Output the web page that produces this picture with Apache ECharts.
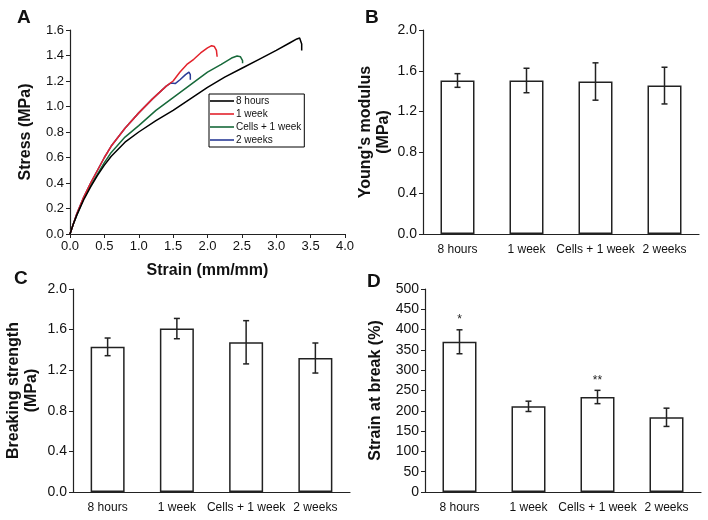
<!DOCTYPE html>
<html>
<head>
<meta charset="utf-8">
<script src="https://cdn.jsdelivr.net/npm/echarts@6/dist/echarts.min.js"></script>
<style>
html,body{margin:0;padding:0;background:#fff;}
#chart{width:708px;height:520px;}
</style>
</head>
<body>
<div id="chart"></div>
<script>
// ---------- Panel A: stress-strain curves ----------
const seriesNamesA = ['8 hours', '1 week', 'Cells + 1 week', '2 weeks'];
const curve8h = [[0,0],[0.05,0.08],[0.1,0.15],[0.2,0.27],[0.3,0.37],[0.4,0.46],[0.5,0.54],[0.6,0.61],[0.8,0.72],[1.0,0.8],[1.25,0.89],[1.5,0.97],[1.75,1.06],[2.0,1.15],[2.25,1.23],[2.5,1.3],[2.75,1.37],[3.0,1.44],[3.2,1.5],[3.3,1.53],[3.34,1.537],[3.36,1.525],[3.37,1.49],[3.37,1.44]];
const curve1w = [[0,0],[0.05,0.08],[0.1,0.16],[0.2,0.29],[0.3,0.4],[0.4,0.5],[0.5,0.6],[0.6,0.69],[0.8,0.83],[1.0,0.95],[1.2,1.06],[1.4,1.16],[1.5,1.2],[1.6,1.27],[1.7,1.33],[1.8,1.37],[1.9,1.42],[2.0,1.46],[2.06,1.477],[2.1,1.47],[2.13,1.44],[2.14,1.39]];
const curveCells = [[0,0],[0.05,0.08],[0.1,0.15],[0.2,0.28],[0.3,0.38],[0.4,0.47],[0.5,0.56],[0.6,0.64],[0.8,0.76],[1.0,0.85],[1.25,0.97],[1.5,1.07],[1.75,1.17],[2.0,1.27],[2.2,1.33],[2.35,1.38],[2.43,1.396],[2.48,1.39],[2.51,1.36],[2.51,1.34]];
const curve2w = [[0,0],[0.05,0.08],[0.1,0.16],[0.2,0.29],[0.3,0.4],[0.4,0.5],[0.5,0.6],[0.6,0.69],[0.8,0.83],[1.0,0.95],[1.2,1.06],[1.4,1.16],[1.47,1.185],[1.53,1.18],[1.6,1.21],[1.68,1.25],[1.73,1.27],[1.75,1.25],[1.75,1.21]];
const colorsA = ['#000000', '#e3232c', '#17693a', '#2b3d98'];

// ---------- Bar panels ----------
const groups = ['8 hours', '1 week', 'Cells + 1 week', '2 weeks'];
const youngMean = [1.505, 1.505, 1.495, 1.455];
const youngErr  = [0.067, 0.12, 0.183, 0.18];
const breakMean = [1.43, 1.61, 1.475, 1.32];
const breakErr  = [0.087, 0.10, 0.213, 0.148];
const strainMean = [370, 211, 234, 184];
const strainErr  = [29.5, 12.7, 16.4, 22.5];
const strainMarks = ['*', '', '**', ''];

const FONT = 'Liberation Sans, Arial, Helvetica, sans-serif';
const AX = '#222';

function errData(mean, err) {
  return mean.map((m, i) => [i, m - err[i], m + err[i]]);
}
function errSeries(xi, yi, mean, err, marks) {
  return {
    type: 'custom', xAxisIndex: xi, yAxisIndex: yi, z: 5,
    data: errData(mean, err),
    renderItem: function (params, api) {
      const lo = api.coord([api.value(0), api.value(1)]);
      const hi = api.coord([api.value(0), api.value(2)]);
      const w = 3;
      const st = { stroke: '#222', lineWidth: 1.5 };
      const ch = [
        { type: 'line', shape: { x1: lo[0], y1: lo[1], x2: hi[0], y2: hi[1] }, style: st },
        { type: 'line', shape: { x1: lo[0] - w, y1: lo[1], x2: lo[0] + w, y2: lo[1] }, style: st },
        { type: 'line', shape: { x1: hi[0] - w, y1: hi[1], x2: hi[0] + w, y2: hi[1] }, style: st }
      ];
      if (marks && marks[params.dataIndex]) {
        ch.push({ type: 'text', x: hi[0], y: hi[1] - 10,
          style: { text: marks[params.dataIndex], fill: '#222', font: '12px ' + FONT, align: 'center', verticalAlign: 'middle' } });
      }
      return { type: 'group', children: ch };
    }
  };
}

function catAxis(gi) {
  return {
    type: 'category', gridIndex: gi, data: groups,
    axisLine: { lineStyle: { color: AX, width: 1.2 } },
    axisTick: { show: false },
    axisLabel: { interval: 0, color: '#111', fontSize: 12, fontFamily: FONT, margin: 10 },
    splitLine: { show: false }
  };
}
function valAxis(gi, min, max, interval, name, gap, dec) {
  return {
    type: 'value', gridIndex: gi, min: min, max: max, interval: interval,
    name: name, nameLocation: 'middle', nameGap: gap, nameRotate: 90,
    nameTextStyle: { fontSize: 16, fontWeight: 'bold', color: '#111', fontFamily: FONT, lineHeight: 18, align: 'center' },
    axisLine: { show: true, lineStyle: { color: AX, width: 1.2 } },
    axisTick: { show: true, length: 4, lineStyle: { color: AX } },
    axisLabel: { color: '#111', fontSize: 14, fontFamily: FONT, margin: 6,
      formatter: v => dec ? v.toFixed(dec) : String(v) },
    splitLine: { show: false }
  };
}
function barSeries(xi, yi, data) {
  return {
    type: 'bar', xAxisIndex: xi, yAxisIndex: yi, data: data, barWidth: 34,
    itemStyle: { color: '#ffffff', borderColor: '#222', borderWidth: 1.5 },
    silent: true
  };
}

const lineData = [curve8h, curve1w, curveCells, curve2w];

const option = {
  animation: false,
  backgroundColor: '#ffffff',
  textStyle: { fontFamily: FONT },
  grid: [
    { left: 70, top: 30, width: 275, height: 204 },
    { left: 423, top: 30, width: 276, height: 204 },
    { left: 73, top: 289, width: 277, height: 203 },
    { left: 425, top: 289, width: 276, height: 203 }
  ],
  legend: {
    data: seriesNamesA, orient: 'vertical', left: 209, top: 94,
    icon: 'rect', itemWidth: 24, itemHeight: 1.6, itemGap: 1,
    padding: [1, 3, 1, 1],
    borderColor: '#000', borderWidth: 1,
    textStyle: { fontSize: 10, color: '#111', fontFamily: FONT, lineHeight: 12, padding: [0, 0, 0, -3] }
  },
  xAxis: [
    {
      type: 'value', gridIndex: 0, min: 0, max: 4, interval: 0.5,
      name: 'Strain (mm/mm)', nameLocation: 'middle', nameGap: 29,
      nameTextStyle: { fontSize: 16, fontWeight: 'bold', color: '#111', fontFamily: FONT },
      axisLine: { lineStyle: { color: AX, width: 1.2 } },
      axisTick: { show: true, length: 4, lineStyle: { color: AX } },
      axisLabel: { color: '#111', fontSize: 13, fontFamily: FONT, margin: 6, formatter: v => v.toFixed(1) },
      splitLine: { show: false }
    },
    catAxis(1), catAxis(2), catAxis(3)
  ],
  yAxis: [
    {
      type: 'value', gridIndex: 0, min: 0, max: 1.6, interval: 0.2,
      name: 'Stress (MPa)', nameLocation: 'middle', nameGap: 36, nameRotate: 90,
      nameTextStyle: { fontSize: 16, fontWeight: 'bold', color: '#111', fontFamily: FONT },
      axisLine: { show: true, lineStyle: { color: AX, width: 1.2 } },
      axisTick: { show: true, length: 4, lineStyle: { color: AX } },
      axisLabel: { color: '#111', fontSize: 13, fontFamily: FONT, margin: 6, formatter: v => v.toFixed(1) },
      splitLine: { show: false }
    },
    valAxis(1, 0, 2.0, 0.4, "Young's modulus\n(MPa)", 30, 1),
    valAxis(2, 0, 2.0, 0.4, 'Breaking strength\n(MPa)', 32, 1),
    valAxis(3, 0, 500, 50, 'Strain at break (%)', 40, 0)
  ],
  series: [
    ...seriesNamesA.map((n, i) => ({
      name: n, type: 'line', xAxisIndex: 0, yAxisIndex: 0, data: lineData[i],
      symbol: 'none', color: colorsA[i], lineStyle: { width: 1.5, color: colorsA[i] }, z: 4 - i
    })),
    barSeries(1, 1, youngMean), errSeries(1, 1, youngMean, youngErr, null),
    barSeries(2, 2, breakMean), errSeries(2, 2, breakMean, breakErr, null),
    barSeries(3, 3, strainMean), errSeries(3, 3, strainMean, strainErr, strainMarks)
  ],
  graphic: [
    { type: 'text', left: 17, top: 8, style: { text: 'A', font: 'bold 19px ' + FONT, fill: '#111' } },
    { type: 'text', left: 365, top: 8, style: { text: 'B', font: 'bold 19px ' + FONT, fill: '#111' } },
    { type: 'text', left: 14, top: 269, style: { text: 'C', font: 'bold 19px ' + FONT, fill: '#111' } },
    { type: 'text', left: 367, top: 272, style: { text: 'D', font: 'bold 19px ' + FONT, fill: '#111' } }
  ]
};

const chart = echarts.init(document.getElementById('chart'), null, { renderer: 'canvas' });
chart.setOption(option);
</script>
</body>
</html>
